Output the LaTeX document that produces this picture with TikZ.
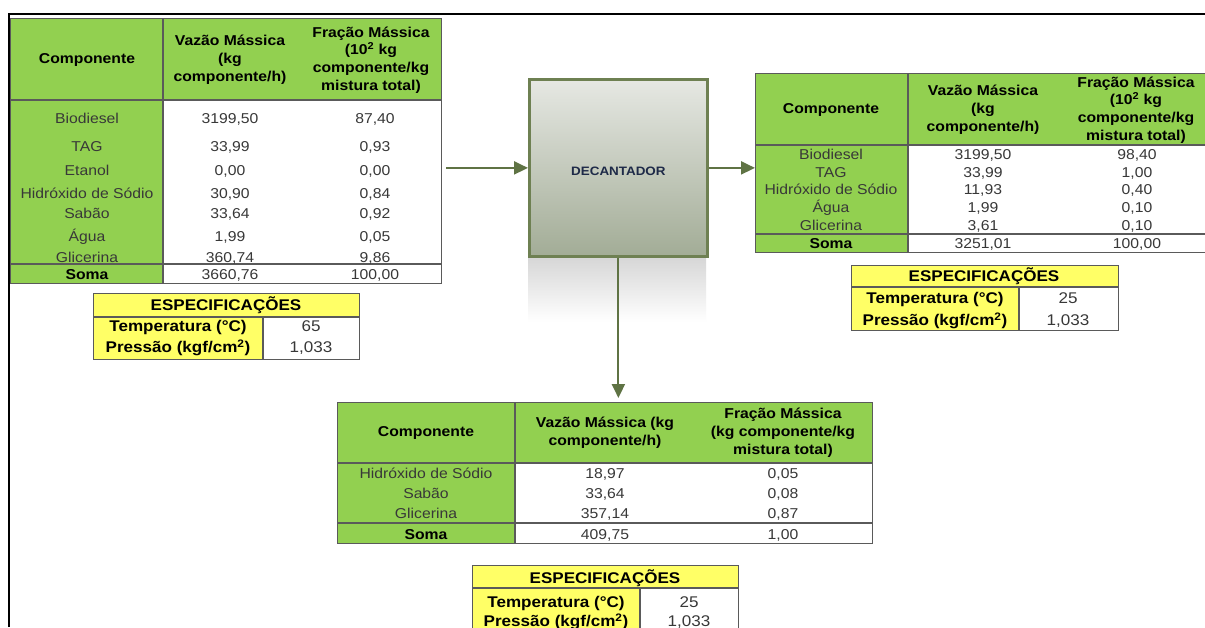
\documentclass[tikz,border=0pt]{standalone}
\usepackage{fontspec}
\setmainfont[FakeStretch=1.1]{Liberation Sans}
\usetikzlibrary{arrows.meta}
\definecolor{tabgreen}{HTML}{92D050}
\definecolor{specyellow}{HTML}{FFFF66}
\definecolor{gridgray}{HTML}{5A5A5A}
\definecolor{txtgray}{HTML}{383838}
\definecolor{decolive}{HTML}{6E8052}
\definecolor{flowolive}{HTML}{5F7344}
\definecolor{dectop}{HTML}{E6E8E3}
\definecolor{decbot}{HTML}{A2AC96}
\definecolor{decnavy}{HTML}{1E2A48}

\begin{document}
\begin{tikzpicture}[x=1pt,y=-1pt,>={Triangle[length=14pt,width=13pt]},
  hdr/.style={font=\fontsize{14.3}{17.8}\selectfont\bfseries,align=center,inner sep=0pt},
  cell/.style={font=\fontsize{14.3}{17}\selectfont,text=txtgray,inner sep=0pt,text height=10.2pt,text depth=0pt},
  sumcell/.style={cell,font=\fontsize{14.3}{17}\selectfont\bfseries,text=black},
  spechdr/.style={font=\fontsize{15.5}{18}\selectfont\bfseries,inner sep=0pt,text height=11pt,text depth=0pt},
  specval/.style={spechdr,font=\fontsize{15.5}{18}\selectfont,text=txtgray},
  tabframe/.style={draw=gridgray,line width=1.2pt,inner sep=0pt,anchor=north west},
  grid/.style={draw=gridgray,line width=1.2pt},
  flow/.style={->,draw=flowolive,line width=2pt}]

\useasboundingbox (0,0) rectangle (1205,627);
\clip (0,0) rectangle (1205,627);
\fill[white] (0,0) rectangle (1205,627);
% page frame
\draw[line width=2.2pt] (9,627) -- (9,14) -- (1205,14);

% decanter with its reflection
\shade[top color=black!16,bottom color=white] (528,257) rectangle (706,322);
\node[draw=decolive,line width=2.8pt,top color=dectop,bottom color=decbot,minimum width=178pt,minimum height=177pt,anchor=north west,
  font=\fontsize{12.2}{14}\selectfont\bfseries,text=decnavy,text height=15.8pt,text depth=0pt] (dec) at (528,78) {DECANTADOR};

% feed table
\fill[tabgreen] (10,18) rectangle (441,100);
\fill[tabgreen] (10,100) rectangle (163,283);
\draw[grid] (163,18) -- (163,283) (10,100) -- (441,100) (10,264) -- (441,264);
\node[tabframe,minimum width=431pt,minimum height=265pt] (feed) at (10,18) {};
\node[hdr] (feedh1) at (87,60) {Componente};
\node[hdr] (feedh2) at (230,60) {Vazão Mássica\\(kg\\componente/h)};
\node[hdr] (feedh3) at (371,60) {Fração Mássica\\(10\textsuperscript{2} kg\\componente/kg\\mistura total)};
\node[cell] (feedn1) at (87,118) {Biodiesel};
\node[cell] (feedv1) at (230,118) {3199,50};
\node[cell] (feedf1) at (375,118) {87,40};
\node[cell] (feedn2) at (87,146) {TAG};
\node[cell] (feedv2) at (230,146) {33,99};
\node[cell] (feedf2) at (375,146) {0,93};
\node[cell] (feedn3) at (87,170) {Etanol};
\node[cell] (feedv3) at (230,170) {0,00};
\node[cell] (feedf3) at (375,170) {0,00};
\node[cell] (feedn4) at (87,193) {Hidróxido de Sódio};
\node[cell] (feedv4) at (230,193) {30,90};
\node[cell] (feedf4) at (375,193) {0,84};
\node[cell] (feedn5) at (87,213) {Sabão};
\node[cell] (feedv5) at (230,213) {33,64};
\node[cell] (feedf5) at (375,213) {0,92};
\node[cell] (feedn6) at (87,236) {Água};
\node[cell] (feedv6) at (230,236) {1,99};
\node[cell] (feedf6) at (375,236) {0,05};
\node[cell] (feedn7) at (87,257) {Glicerina};
\node[cell] (feedv7) at (230,257) {360,74};
\node[cell] (feedf7) at (375,257) {9,86};
\node[sumcell] (feeds) at (87,274) {Soma};
\node[cell] (feedsv) at (230,274) {3660,76};
\node[cell] (feedsf) at (375,274) {100,00};

% feed specifications
\fill[specyellow] (93,293) rectangle (359,317);
\fill[specyellow] (93,317) rectangle (263,359);
\draw[grid] (93,317) -- (359,317) (263,317) -- (263,359);
\node[tabframe,minimum width=266pt,minimum height=66pt] (specA) at (93,293) {};
\node[spechdr] (specAh) at (226,305) {ESPECIFICAÇÕES};
\node[spechdr] (specAt) at (178,326) {Temperatura (°C)};
\node[specval] (specAtv) at (311,326) {65};
\node[spechdr] (specAp) at (178,347) {Pressão (kgf/cm\textsuperscript{2})};
\node[specval] (specApv) at (311,347) {1,033};

% top product table
\fill[tabgreen] (755,73) rectangle (1215,145);
\fill[tabgreen] (755,145) rectangle (908,252);
\draw[grid] (908,73) -- (908,252) (755,145) -- (1215,145) (755,234) -- (1215,234);
\node[tabframe,minimum width=460pt,minimum height=179pt] (prod) at (755,73) {};
\node[hdr] (prodh1) at (831,110) {Componente};
\node[hdr] (prodh2) at (983,110) {Vazão Mássica\\(kg\\componente/h)};
\node[hdr] (prodh3) at (1136,110) {Fração Mássica\\(10\textsuperscript{2} kg\\componente/kg\\mistura total)};
\node[cell] (prodn1) at (831,154) {Biodiesel};
\node[cell] (prodv1) at (983,154) {3199,50};
\node[cell] (prodf1) at (1137,154) {98,40};
\node[cell] (prodn2) at (831,172) {TAG};
\node[cell] (prodv2) at (983,172) {33,99};
\node[cell] (prodf2) at (1137,172) {1,00};
\node[cell] (prodn3) at (831,189) {Hidróxido de Sódio};
\node[cell] (prodv3) at (983,189) {11,93};
\node[cell] (prodf3) at (1137,189) {0,40};
\node[cell] (prodn4) at (831,207) {Água};
\node[cell] (prodv4) at (983,207) {1,99};
\node[cell] (prodf4) at (1137,207) {0,10};
\node[cell] (prodn5) at (831,225) {Glicerina};
\node[cell] (prodv5) at (983,225) {3,61};
\node[cell] (prodf5) at (1137,225) {0,10};
\node[sumcell] (prods) at (831,243) {Soma};
\node[cell] (prodsv) at (983,243) {3251,01};
\node[cell] (prodsf) at (1137,243) {100,00};

% top product specifications
\fill[specyellow] (851,265) rectangle (1118,287);
\fill[specyellow] (851,287) rectangle (1019,330);
\draw[grid] (851,287) -- (1118,287) (1019,287) -- (1019,330);
\node[tabframe,minimum width=267pt,minimum height=65pt] (specB) at (851,265) {};
\node[spechdr] (specBh) at (984,276) {ESPECIFICAÇÕES};
\node[spechdr] (specBt) at (935,298) {Temperatura (°C)};
\node[specval] (specBtv) at (1068,298) {25};
\node[spechdr] (specBp) at (935,320) {Pressão (kgf/cm\textsuperscript{2})};
\node[specval] (specBpv) at (1068,320) {1,033};

% bottom product table
\fill[tabgreen] (337,402) rectangle (872,463);
\fill[tabgreen] (337,463) rectangle (515,543);
\draw[grid] (515,402) -- (515,543) (337,463) -- (872,463) (337,523) -- (872,523);
\node[tabframe,minimum width=535pt,minimum height=141pt] (bot) at (337,402) {};
\node[hdr] (both1) at (426,433) {Componente};
\node[hdr] (both2) at (605,433) {Vazão Mássica (kg\\componente/h)};
\node[hdr] (both3) at (783,433) {Fração Mássica\\(kg componente/kg\\mistura total)};
\node[cell] (botn1) at (426,473) {Hidróxido de Sódio};
\node[cell] (botv1) at (605,473) {18,97};
\node[cell] (botf1) at (783,473) {0,05};
\node[cell] (botn2) at (426,493) {Sabão};
\node[cell] (botv2) at (605,493) {33,64};
\node[cell] (botf2) at (783,493) {0,08};
\node[cell] (botn3) at (426,513) {Glicerina};
\node[cell] (botv3) at (605,513) {357,14};
\node[cell] (botf3) at (783,513) {0,87};
\node[sumcell] (bots) at (426,534) {Soma};
\node[cell] (botsv) at (605,534) {409,75};
\node[cell] (botsf) at (783,534) {1,00};

% bottom product specifications
\fill[specyellow] (472,565) rectangle (738,588);
\fill[specyellow] (472,588) rectangle (640,640);
\draw[grid] (472,588) -- (738,588) (640,588) -- (640,640);
\node[tabframe,minimum width=266pt,minimum height=75pt] (specC) at (472,565) {};
\node[spechdr] (specCh) at (605,578) {ESPECIFICAÇÕES};
\node[spechdr] (specCt) at (556,602) {Temperatura (°C)};
\node[specval] (specCtv) at (689,602) {25};
\node[spechdr] (specCp) at (556,621) {Pressão (kgf/cm\textsuperscript{2})};
\node[specval] (specCpv) at (689,621) {1,033};

% streams
\draw[flow] ([xshift=4pt]feed.east |- dec.west) -- (dec.west);
\draw[flow] (dec.east) -- (prod.west |- dec.east);
\draw[flow] (dec.south) -- ([yshift=4pt]dec.south |- bot.north);
\end{tikzpicture}
\end{document}
